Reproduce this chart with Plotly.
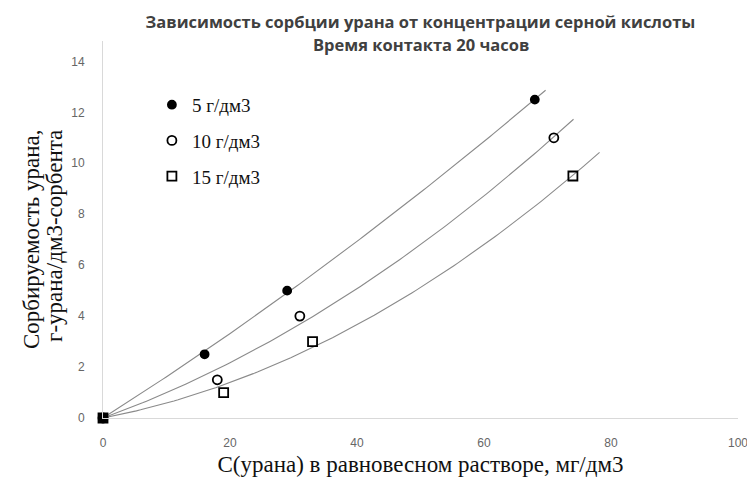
import numpy as np
import plotly.graph_objects as go

# данные
names = ['5 г/дм3', '10 г/дм3', '15 г/дм3']
x5 = [0, 16, 29, 68]
y5 = [0, 2.5, 5, 12.5]
x10 = [0, 18, 31, 71]
y10 = [0, 1.5, 4, 11]
x15 = [0, 19, 33, 74]
y15 = [0, 1, 3, 9.5]
# до какого x продолжена линия тренда
trend_end = [69.7, 74.1, 78.2]

symbols = ['circle', 'circle-open', 'square-open']
sizes = [8, 9, 9]

fig = go.Figure()

for xs, ys, xe in zip([x5, x10, x15], [y5, y10, y15], trend_end):
    # полиномиальный тренд 2-й степени через начало координат
    xa = np.array(xs, dtype=float)
    ya = np.array(ys, dtype=float)
    A = np.vstack([xa, xa ** 2]).T
    coef = np.linalg.lstsq(A, ya, rcond=None)[0]
    xt = np.linspace(0, xe, 120)
    yt = coef[0] * xt + coef[1] * xt ** 2
    fig.add_trace(go.Scatter(
        x=xt, y=yt, mode='lines',
        line=dict(color='#8a8a8a', width=1.1),
        showlegend=False, hoverinfo='skip', cliponaxis=False,
    ))

for xs, ys, nm, sym, sz, grp in zip([x5, x10, x15], [y5, y10, y15], names,
                                    symbols, sizes, ['a', 'b', 'c']):
    fig.add_trace(go.Scatter(
        x=xs, y=ys, mode='markers', name=nm, legendgroup=grp,
        marker=dict(symbol=sym, size=sz, color='black',
                    line=dict(color='black', width=1.8)),
        cliponaxis=False,
    ))

# страница сдвинута на 8px (отступ body), поэтому фигура 747x476
W, H = 747, 476
ML, MT = 95, 33
PH = 377

ytitle_font = dict(family='Liberation Serif', size=23, color='#111')
title_font = dict(family='Open Sans', size=16.5, color='#404040')

annotations = [
    dict(text='<b>Время контакта 20 часов</b>', font=title_font,
         x=0.5, xref='paper', xanchor='center',
         y=1 - (37 - MT) / PH, yref='paper', yanchor='middle', showarrow=False),
    dict(text='Сорбируемость урана,', font=ytitle_font, textangle=-90,
         x=0, xref='paper', xanchor='center', xshift=-(ML - 24),
         y=1 - (231 - MT) / PH, yref='paper', yanchor='middle', showarrow=False),
    dict(text='г-урана/дм3-сорбента', font=ytitle_font, textangle=-90,
         x=0, xref='paper', xanchor='center', xshift=-(ML - 46),
         y=1 - (228 - MT) / PH, yref='paper', yanchor='middle', showarrow=False),
]

fig.update_layout(
    width=W, height=H,
    margin=dict(l=ML, r=17, t=MT, b=H - MT - PH, autoexpand=False),
    paper_bgcolor='white', plot_bgcolor='white',
    title=dict(
        text='<b>Зависимость сорбции урана от концентрации серной кислоты</b>',
        font=title_font,
        x=0.5, xref='paper', xanchor='center',
        y=1 - 14 / H, yref='container', yanchor='middle',
    ),
    annotations=annotations,
    legend=dict(
        x=0.077, y=0.881, xanchor='left', yanchor='top',
        font=dict(family='Liberation Serif', size=19, color='#111'),
        tracegroupgap=8, bgcolor='rgba(0,0,0,0)',
    ),
    xaxis=dict(
        range=[0, 100], dtick=20, showgrid=False, zeroline=False,
        showline=True, linecolor='#d9d9d9', linewidth=1,
        tickfont=dict(family='Liberation Sans', size=12, color='#666'),
        ticklabelstandoff=14, automargin=False,
        title=dict(text='С(урана) в равновесном растворе, мг/дм3',
                   font=dict(family='Liberation Serif', size=23, color='#111'),
                   standoff=6),
    ),
    yaxis=dict(
        range=[0, 14.8], tickvals=[0, 2, 4, 6, 8, 10, 12, 14],
        showgrid=False, zeroline=False,
        showline=True, linecolor='#d9d9d9', linewidth=1,
        tickfont=dict(family='Liberation Sans', size=12, color='#666'),
        ticklabelstandoff=15, automargin=False,
    ),
)

fig.write_html('out.html')
